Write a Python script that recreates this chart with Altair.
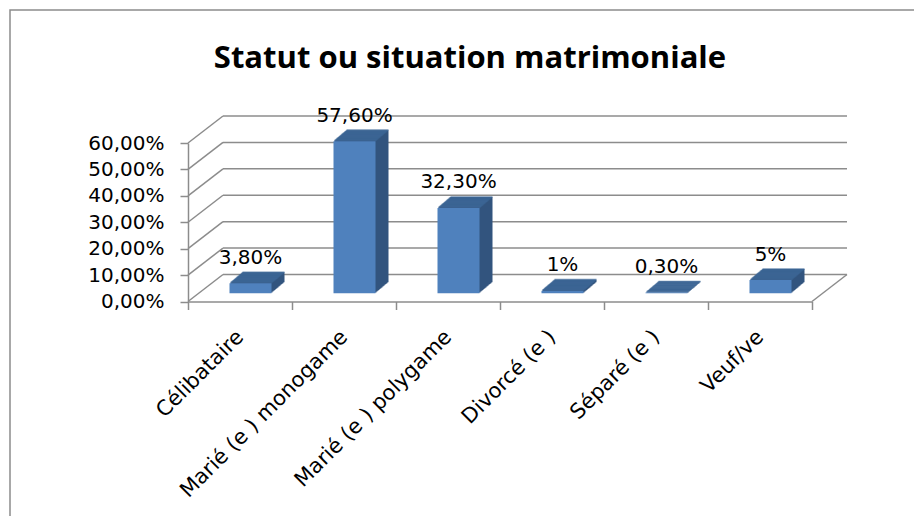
import altair as alt
import pandas as pd

# ---- data ----
categories = ["Célibataire", "Marié (e ) monogame", "Marié (e ) polygame",
              "Divorcé (e )", "Séparé (e )", "Veuf/ve"]
values = [0.038, 0.576, 0.323, 0.01, 0.003, 0.05]
value_labels = ["3,80%", "57,60%", "32,30%", "1%", "0,30%", "5%"]
grid_values = [0.0, 0.1, 0.2, 0.3, 0.4, 0.5, 0.6]
title_text = "Statut ou situation matrimoniale"

df = pd.DataFrame({"cat": categories, "val": values, "lab": value_labels})
grid_df = pd.DataFrame({"g": grid_values})
title_df = pd.DataFrame({"t": [title_text]})

# ---- style ----
W, H = 624, 158.5
FONT = "DejaVu Sans"
TFONT = "Open Sans"
GRAY = "#8c8c8c"
FRONT = "#4f81bd"
TOP = "#3d6697"
SIDE = "#33557f"
DEPTH_X, DEPTH_Y = 35, 27          # wall depth in pixels
BAR_DX, BAR_DY = 10.5, 8.2         # bar front face depth offset
EXT_X, EXT_Y = 13, 11              # bar extrusion
BAR_W = 42
N = 13

xscale = alt.Scale(domain=categories, paddingInner=0, paddingOuter=0)
yscale = alt.Scale(domain=[0, 0.6], nice=False)

y_axis = alt.Axis(values=grid_values, format=".2%",
                  labelExpr="replace(format(datum.value, '.2%'), '.', ',')",
                  labelFont=FONT, labelFontSize=20, labelColor="#000000",
                  labelPadding=16, tickSize=8, tickColor=GRAY, tickWidth=1.5,
                  domainColor=GRAY, domainWidth=1.5, grid=False,
                  labelOverlap=False, labelLimit=500)

X = alt.X("cat:N", scale=xscale, sort=categories, title=None,
          axis=alt.Axis(labelAngle=-45, labelAlign="right", labelBaseline="middle",
                        labelFont=FONT, labelFontSize=21, labelColor="#000000",
                        labelPadding=24, labelLimit=500, tickSize=8, tickBand="extent",
                        tickColor=GRAY, tickWidth=1.5, domainColor=GRAY,
                        domainWidth=1.5, grid=False, labelOverlap=False))
Y = alt.Y("val:Q", scale=yscale, title=None, axis=y_axis)

base = alt.Chart(df)

# outer border
border = alt.Chart(title_df).mark_rect(filled=False, stroke=GRAY, strokeWidth=1.5).encode(
    x=alt.value(-178), x2=alt.value(760), y=alt.value(-133), y2=alt.value(420))

title = alt.Chart(title_df).mark_text(
    font=TFONT, fontSize=31, fontWeight="bold", baseline="alphabetic", align="center",
    color="#000000").encode(text="t:N", x=alt.value(282), y=alt.value(-75))

GY = alt.Y("g:Q", scale=yscale, title=None, axis=y_axis)

# back wall horizontal grid lines
back_grid = alt.Chart(grid_df).mark_rule(color=GRAY, strokeWidth=1.5,
                                         yOffset=-DEPTH_Y).encode(
    y=GY, x=alt.value(DEPTH_X), x2=alt.value(W + DEPTH_X))

# side wall diagonals
diag = alt.Chart(grid_df).mark_rule(color=GRAY, strokeWidth=1.5,
                                    y2Offset=-DEPTH_Y).encode(
    y=GY, y2="g:Q", x=alt.value(0), x2=alt.value(DEPTH_X))

floor_right = alt.Chart(grid_df[grid_df.g == 0]).mark_rule(
    color=GRAY, strokeWidth=1.5, y2Offset=-DEPTH_Y).encode(
    y=GY, y2="g:Q", x=alt.value(W), x2=alt.value(W + DEPTH_X))

layers = [border, title, back_grid, diag, floor_right]

for i in range(N, 0, -1):
    ox = BAR_DX + i * EXT_X / N
    oy = -BAR_DY - i * EXT_Y / N
    layers.append(base.mark_bar(size=BAR_W, color=SIDE, xOffset=ox,
                                yOffset=oy, y2Offset=oy).encode(x=X, y=Y))
for i in range(N, 0, -1):
    ox = BAR_DX + i * EXT_X / N
    oy = -BAR_DY - i * EXT_Y / N
    layers.append(base.mark_tick(size=BAR_W, thickness=1.6, color=TOP, orient="horizontal",
                                 xOffset=ox, yOffset=oy).encode(x=X, y=Y))

front = base.mark_bar(size=BAR_W, color=FRONT, xOffset=BAR_DX,
                      yOffset=-BAR_DY, y2Offset=-BAR_DY).encode(x=X, y=Y)
labels = base.mark_text(font=FONT, fontSize=20, color="#000000", baseline="alphabetic",
                        dx=BAR_DX, dy=-BAR_DY - 19.5).encode(x=X, y=Y, text="lab:N")
layers += [front, labels]

chart = alt.layer(*layers).properties(
    width=W, height=H,
    autosize=alt.AutoSizeParams(type="none"),
    padding={"left": 180, "top": 135, "right": 102, "bottom": 214},
    background="white",
).configure_view(stroke=None).configure_axisY(labelOverlap=False)

chart.save("out.html", embed_options={"renderer": "svg", "actions": False})
